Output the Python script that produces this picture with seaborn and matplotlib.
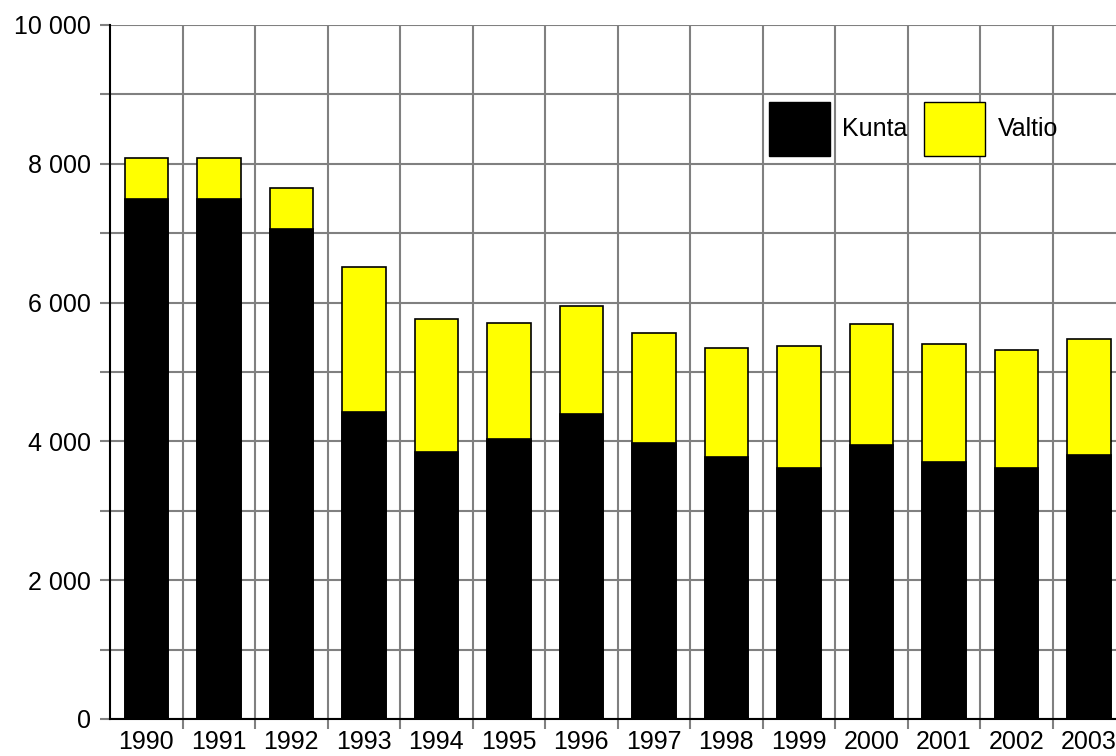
import matplotlib
matplotlib.use("Agg")
import matplotlib.pyplot as plt
from matplotlib.patches import Patch
from matplotlib.ticker import FuncFormatter, MultipleLocator, FixedLocator
import seaborn as sns
import pandas as pd

# ----------------------------------------
# Data
# ----------------------------------------

years = ["1990", "1991", "1992", "1993", "1994", "1995", "1996",
         "1997", "1998", "1999", "2000", "2001", "2002", "2003"]
kunta = [7490, 7490, 7060, 4430, 3850, 4030, 4400,
         3980, 3770, 3620, 3950, 3710, 3620, 3810]
valtio = [590, 590, 590, 2080, 1920, 1680, 1550,
          1580, 1580, 1750, 1740, 1690, 1690, 1660]

df = pd.DataFrame({"Vuosi": years, "Kunta": kunta, "Valtio": valtio})
df["Yhteensä"] = df["Kunta"] + df["Valtio"]

# ----------------------------------------
# Plot
# ----------------------------------------

sns.set_style("white")
plt.rcParams["font.family"] = ["Liberation Sans", "DejaVu Sans"]
plt.rcParams["text.color"] = "black"

fig = plt.figure(figsize=(11.16, 7.56), dpi=100)
ax = fig.add_axes([110 / 1116, 1 - 719 / 756, 1015 / 1116, 694 / 756])

grid_col = "#808080"
ax.set_axisbelow(True)

sns.barplot(data=df, x="Vuosi", y="Yhteensä", color="#ffff00", width=0.6,
            edgecolor="black", linewidth=1.2, saturation=1, ax=ax)
sns.barplot(data=df, x="Vuosi", y="Kunta", color="black", width=0.6,
            edgecolor="black", linewidth=1.2, saturation=1, ax=ax)

ax.set_xlim(-0.5, len(years) - 0.5)
ax.set_ylim(0, 10000)
ax.set_xlabel("")
ax.set_ylabel("")

ax.yaxis.set_major_locator(MultipleLocator(2000))
ax.yaxis.set_minor_locator(MultipleLocator(1000))
ax.yaxis.set_major_formatter(FuncFormatter(lambda v, p: f"{int(v):,}".replace(",", " ")))
ax.xaxis.set_minor_locator(FixedLocator([i + 0.5 for i in range(len(years) - 1)]))

ax.grid(which="both", axis="y", color=grid_col, linewidth=1.5)
ax.grid(which="minor", axis="x", color=grid_col, linewidth=1.5)

ax.tick_params(axis="y", which="both", length=7, width=1.5, color=grid_col,
               labelsize=18, pad=7, left=True, labelcolor="black")
ax.tick_params(axis="x", which="major", length=0, labelsize=18, pad=8,
               labelcolor="black")
ax.tick_params(axis="x", which="minor", length=7, width=1.5, color=grid_col,
               bottom=True)

for side in ["top", "right"]:
    ax.spines[side].set_visible(False)
ax.spines["left"].set_color("black")
ax.spines["left"].set_linewidth(1.5)
ax.spines["bottom"].set_color("black")
ax.spines["bottom"].set_linewidth(1.5)

handles = [Patch(facecolor="black", edgecolor="black", label="Kunta"),
           Patch(facecolor="#ffff00", edgecolor="black", label="Valtio")]
ax.legend(handles=handles, loc="upper left", bbox_to_anchor=(659 / 1015, 1 - 77 / 694),
          ncol=2, frameon=False, fontsize=18, handlelength=2.44, handleheight=2.95,
          handletextpad=0.5, columnspacing=0.65, borderpad=0, borderaxespad=0)

fig.savefig("out.png", dpi=100)
